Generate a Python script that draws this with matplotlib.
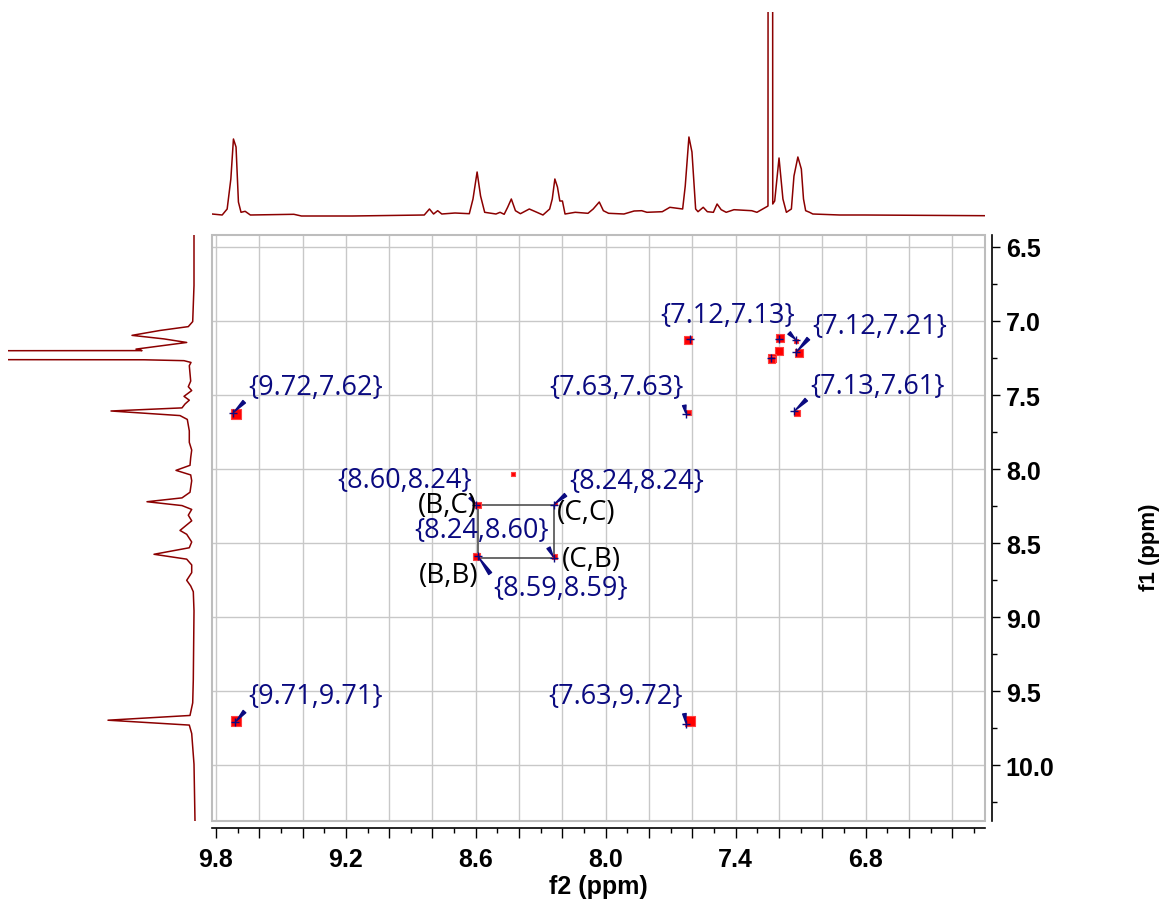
import numpy as np
import matplotlib
matplotlib.use("Agg")
import matplotlib.pyplot as plt
from matplotlib.patches import Rectangle

# 1D projection on top (f2), ppm / intensity
top_ppm = [9.818, 9.771, 9.748, 9.731, 9.719, 9.707, 9.696, 9.684, 9.665, 9.641,
           9.44, 9.405, 9.17, 8.838, 8.814, 8.795, 8.776, 8.757, 8.696, 8.63,
           8.613, 8.594, 8.578, 8.559, 8.507, 8.488, 8.469, 8.453, 8.436, 8.417,
           8.394, 8.353, 8.318, 8.29, 8.259, 8.247, 8.235, 8.223, 8.212, 8.2,
           8.188, 8.141, 8.082, 8.058, 8.03, 8.011, 7.987, 7.916, 7.869, 7.834,
           7.81, 7.739, 7.704, 7.645, 7.633, 7.616, 7.602, 7.585, 7.574, 7.55,
           7.531, 7.503, 7.486, 7.467, 7.444, 7.408, 7.326, 7.302, 7.259, 7.251,
           7.240, 7.229, 7.220, 7.2, 7.182, 7.166, 7.143, 7.131, 7.113, 7.097,
           7.087, 7.077, 7.059, 7.044, 6.92, 6.806, 6.25]
top_int = [1, 0, 6, 36, 76, 68, 13, 2.7, 3.7, 0,
           0.7, -1, -1, 0, 6, 1, 4.3, 1, 2, 1.3,
           16, 43, 19, 2.7, 1, 2.7, 0.7, 7.7, 16, 4.3,
           1.3, 6, 2.7, 0, 6, 16, 36, 28, 14, 14,
           1, 2.7, 1.7, 6, 13, 4.3, 1.7, 1, 4, 4.3,
           2.7, 3.3, 7.7, 6, 29, 78, 63, 6, 3.3, 7.7,
           3.3, 2.7, 11, 5.3, 2.7, 5.3, 4.3, 2.7, 8, 9,
           6000, 11, 14, 57, 16, 2.7, 6, 39, 58, 46,
           16, 4.3, 2.7, 1, 0, 0, -0.7]

# 1D projection on the left (f1)
left_ppm = [6.41, 6.76, 7.004, 7.038, 7.064, 7.097, 7.121, 7.145, 7.19, 7.20,
            7.23, 7.262, 7.268, 7.28, 7.302, 7.354, 7.406, 7.444, 7.47, 7.509,
            7.535, 7.561, 7.587, 7.608, 7.639, 7.665, 7.742, 7.82, 7.872, 7.923,
            7.975, 8.009, 8.04, 8.079, 8.157, 8.195, 8.221, 8.247, 8.273, 8.312,
            8.35, 8.415, 8.441, 8.493, 8.532, 8.576, 8.609, 8.648, 8.7, 8.752,
            8.79, 8.829, 8.959, 9.425, 9.58, 9.665, 9.697, 9.73, 9.787, 9.994,
            10.38]
left_int = [0, 0, 1.3, 5.7, 34, 62, 30, 7.3, 58, 52,
            6000, 50, 10, 3, 4.7, 4, 3.3, 5.7, 2.3, 10,
            4.7, 9, 12, 83, 14, 6.7, 4.7, 4.7, 2.3, 3.3,
            4, 18, 3.3, 2.3, 4, 12, 47, 12, 2.3, 5.7,
            2.3, 14, 7.3, 2.3, 4.7, 40, 7.3, 2.3, 2.3, 7.3,
            3.3, 0.7, 0, 0.7, 1.3, 4, 86, 4.7, 2.3, 0,
            -1]

# 2D cross peaks (f2, f1) and spot size in px
spot_f2 = [9.705, 9.705, 7.613, 7.617, 7.619, 7.197, 7.200, 7.233, 7.236, 7.110,
           7.120, 7.116, 8.590, 8.596, 8.232, 8.238, 8.427]
spot_f1 = [9.705, 7.628, 9.703, 7.620, 7.125, 7.118, 7.205, 7.250, 7.262, 7.215,
           7.133, 7.622, 8.240, 8.593, 8.230, 8.593, 8.032]
spot_px = [10, 10, 10, 5, 8, 8, 8, 8, 7, 8,
           4, 6, 6, 7, 3, 5, 4]

# labelled peak picks {f2,f1}
pick_f2 = [9.72, 9.71, 7.63, 7.63, 7.12, 7.12, 7.13, 8.60, 8.24, 8.24, 8.59]
pick_f1 = [7.62, 9.71, 9.72, 7.63, 7.13, 7.21, 7.61, 8.24, 8.24, 8.60, 8.59]
# unlabelled picks
extra_f2 = [7.20, 7.235, 7.61]
extra_f1 = [7.12, 7.25, 7.12]

# spin system box B/C
corner_names = ['(B,C)', '(C,C)', '(B,B)', '(C,B)']
corner_f2 = [8.59, 8.24, 8.59, 8.24]
corner_f1 = [8.24, 8.24, 8.59, 8.60]

x_labels = ['9.8', '9.2', '8.6', '8.0', '7.4', '6.8']
y_labels = ['6.5', '7.0', '7.5', '8.0', '8.5', '9.0', '9.5', '10.0']

# layout (pixel offsets of label text / arrow start on the text box)
pick_off = [(82, 26), (80, 26), (-70, 28), (-70, 27), (-69, 25), (83, 26),
            (83, 25), (-71, 25), (83, 24), (-72, 28), (83, -32)]
pick_rel = [(0, 0.1), (0, 0.1), (1, 0.15), (1, 0.1), (0.9, 0.15), (0, 0.2),
            (0, 0.15), (0.95, 0.1), (0, 0.1), (0.97, 0.1), (0, 0.85)]
corner_off = [(-31, 0), (32, -7), (-29, -19), (38, -1)]

navy = '#0a0a80'
dred = '#8b0000'
W, H = 1164, 903
XL = (9.818, 6.249)
YL = (10.378, 6.419)

fig = plt.figure(figsize=(W / 100, H / 100), dpi=100)
ax = fig.add_axes([212 / W, 81 / H, 773 / W, 586 / H])
axt = fig.add_axes([212 / W, 685 / H, 773 / W, 205 / H])
axl = fig.add_axes([8 / W, 81 / H, 190 / W, 586 / H])

# projections
axt.plot(top_ppm, top_int, color=dred, lw=1.1)
axt.set_xlim(*XL)
axt.set_ylim(-2, 203)
axt.axis('off')

axl.plot(left_int, left_ppm, color=dred, lw=1.1)
axl.set_xlim(186, -4)
axl.set_ylim(*YL)
axl.axis('off')

# main 2D plot
ax.set_xlim(*XL)
ax.set_ylim(*YL)
ax.set_axisbelow(True)

s = [(p * 0.72) ** 2 for p in spot_px]
ax.scatter(spot_f2, spot_f1, s=s, marker='s', color='#ff0000',
           edgecolors='#ff4040', linewidths=0.8, zorder=3)
ax.plot(pick_f2, pick_f1, '+', color=navy, ms=6, mew=1.0, zorder=4)
ax.plot(extra_f2, extra_f1, '+', color=navy, ms=6, mew=1.0, zorder=4)

ax.add_patch(Rectangle((max(corner_f2), min(corner_f1)),
                       min(corner_f2) - max(corner_f2),
                       max(corner_f1) - min(corner_f1),
                       fill=False, ec='#505050', lw=1.2, zorder=2))

lab_font = ['Open Sans', 'DejaVu Sans']
for i in range(len(pick_f2)):
    txt = '{%.2f,%.2f}' % (pick_f2[i], pick_f1[i])
    ax.annotate(txt, xy=(pick_f2[i], pick_f1[i]), xytext=pick_off[i],
                textcoords='offset pixels', ha='center', va='center',
                fontsize=19.5, color=navy, family=lab_font, zorder=5,
                arrowprops=dict(arrowstyle='wedge,tail_width=0.13', color=navy,
                                relpos=pick_rel[i], shrinkA=1, shrinkB=1))

for i in range(len(corner_names)):
    ax.annotate(corner_names[i], xy=(corner_f2[i], corner_f1[i]),
                xytext=corner_off[i], textcoords='offset pixels',
                ha='center', va='center', fontsize=20, color='black',
                family=lab_font, zorder=5)

# ticks
tick_font = ['Liberation Sans', 'DejaVu Sans']
xt = np.round(np.arange(9.8, 6.2, -0.2), 1)
ax.set_xticks(xt, ['%.1f' % v if '%.1f' % v in x_labels else '' for v in xt])
ax.set_xticks(np.round(np.arange(9.7, 6.2, -0.2), 1), minor=True)
yt = [float(v) for v in y_labels]
ax.set_yticks(yt, y_labels)
ax.set_yticks([v + 0.25 for v in yt], minor=True)
ax.yaxis.tick_right()

ax.tick_params(axis='x', which='major', direction='out', length=7, width=1, pad=7)
ax.tick_params(axis='x', which='minor', direction='out', length=3.5, width=1)
ax.tick_params(axis='y', which='major', direction='out', length=6, width=1, pad=4)
ax.tick_params(axis='y', which='minor', direction='out', length=3.5, width=1)

ax.grid(True, which='major', color='#c8c8c8', lw=1)
for side in ['top', 'left']:
    ax.spines[side].set_visible(False)
for side in ['bottom', 'right']:
    ax.spines[side].set_position(('outward', 5))
    ax.spines[side].set_color('black')
    ax.spines[side].set_linewidth(1.2)
ax.add_patch(Rectangle((0, 0), 1, 1, transform=ax.transAxes, fill=False,
                       ec='#bdbdbd', lw=1.5, zorder=1, clip_on=False))

for lbl in ax.get_xticklabels() + ax.get_yticklabels():
    lbl.set_fontsize(18)
    lbl.set_fontweight('bold')
    lbl.set_family(tick_font)

fig.text(598.5 / W, 1 - 887 / H, 'f2 (ppm)', ha='center', va='center',
         fontsize=18, fontweight='bold', family=tick_font)
fig.text(1150 / W, 1 - 547 / H, 'f1 (ppm)', ha='center', va='center',
         rotation=90, fontsize=16, fontweight='bold', family=tick_font)

fig.savefig('out.png', dpi=100)
